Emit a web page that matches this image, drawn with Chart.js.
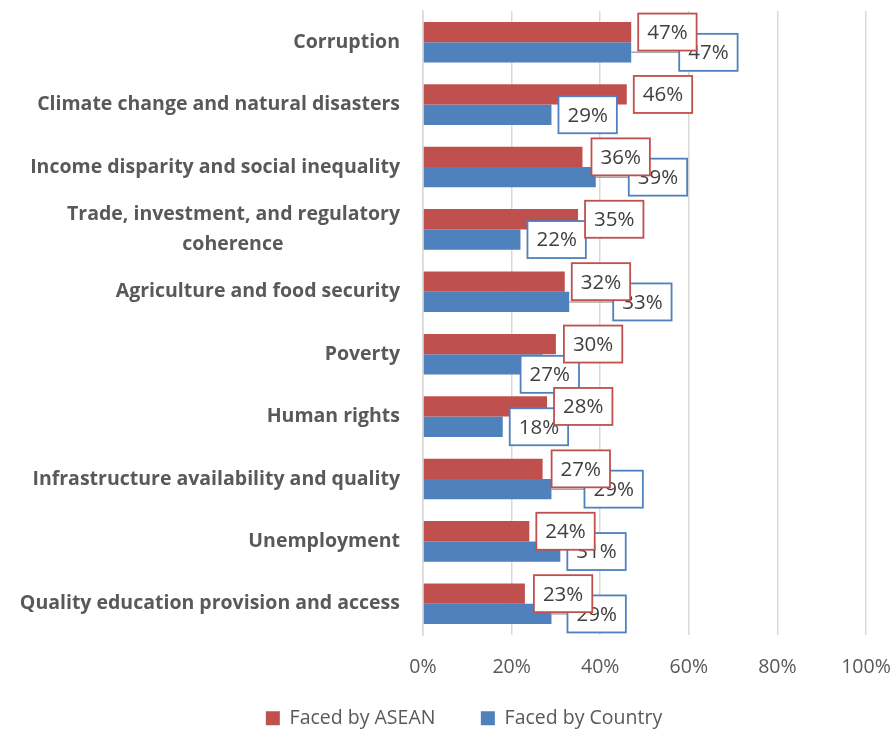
<!DOCTYPE html>
<html>
<head>
<meta charset="utf-8">
<script src="https://cdn.jsdelivr.net/npm/chart.js@4/dist/chart.umd.min.js"></script>
<style>
  html, body { margin: 0; padding: 0; background: #fff; }
  #wrap { width: 896px; height: 729px; position: relative; }
</style>
</head>
<body>
<div id="wrap"><canvas id="issuesChart"></canvas></div>
<script>
const categories = [
  'Corruption',
  'Climate change and natural disasters',
  'Income disparity and social inequality',
  ['Trade, investment, and regulatory', 'coherence'],
  'Agriculture and food security',
  'Poverty',
  'Human rights',
  'Infrastructure availability and quality',
  'Unemployment',
  'Quality education provision and access'
]
const facedByAsean = [47, 46, 36, 35, 32, 30, 28, 27, 24, 23]
const facedByCountry = [47, 29, 39, 22, 33, 27, 18, 29, 31, 29]
const tickValues = [0, 20, 40, 60, 80, 100]

// where the value boxes were dragged away from the bar end (px)
const aseanNudge = [[0, 0], [0, 0], [2, 0], [0, 0], [0, 0], [1, 0], [0, 0], [2, 0], [0, 0], [2, 0]]
const countryNudge = [[41, 0], [0, 0], [26, 0], [0, 0], [37, 0], [-29, 10], [0, 0], [26, 0], [0, 0], [9, 0]]

const RED = '#c0504d'
const BLUE = '#4f81bd'
const FONT = '"Open Sans", sans-serif'
const CAT_SIZE = 19.5
const catFont = { family: FONT, size: CAT_SIZE, weight: 'bold', lineHeight: 1.54 }
const legendFont = { family: FONT, size: 19.5 }

const measureCtx = document.createElement('canvas').getContext('2d')

// centre the shorter lines of a wrapped label under the longest one
function centreLines(lines) {
  measureCtx.font = 'bold ' + CAT_SIZE + 'px ' + FONT
  const widths = lines.map(l => measureCtx.measureText(l).width)
  const widest = Math.max(...widths)
  const sp = measureCtx.measureText('\u2009').width
  return lines.map((l, i) => l + '\u2009'.repeat(Math.round((widest - widths[i]) / 2 / sp)))
}

// drop the padding Chart.js reserves for overhanging tick labels
function noOverhang(scale) {
  scale.paddingLeft = 0
  scale.paddingRight = 0
  scale.paddingTop = 0
  scale.paddingBottom = 0
}

const valueBoxes = {
  id: 'valueBoxes',
  afterDatasetsDraw(chart) {
    const ctx = chart.ctx
    const nudges = [aseanNudge, countryNudge]
    const colours = [RED, BLUE]
    ctx.save()
    ctx.font = '20.5px ' + FONT
    const boxes = []
    ;[1, 0].forEach(di => {
      chart.getDatasetMeta(di).data.forEach((bar, i) => {
        const [dx, dy] = nudges[di][i]
        const text = chart.data.datasets[di].data[i] + '%'
        const w = ctx.measureText(text).width + 18
        boxes.push({
          left: bar.x + 7 + dx,
          cy: bar.y + dy,
          w, h: 37, text, bar, dx,
          colour: colours[di]
        })
      })
    })
    // leader lines go underneath every box
    ctx.strokeStyle = '#a6a6a6'
    ctx.lineWidth = 1.5
    boxes.forEach(b => {
      if (b.dx > 4) {
        ctx.beginPath()
        ctx.moveTo(b.bar.x, b.bar.y)
        ctx.lineTo(b.left, b.cy)
        ctx.stroke()
      }
    })
    boxes.forEach(b => {
      ctx.fillStyle = '#fff'
      ctx.fillRect(b.left, b.cy - b.h / 2, b.w, b.h)
      ctx.strokeStyle = b.colour
      ctx.lineWidth = 1.8
      ctx.strokeRect(b.left, b.cy - b.h / 2, b.w, b.h)
      ctx.fillStyle = '#404040'
      ctx.textAlign = 'center'
      ctx.textBaseline = 'middle'
      ctx.fillText(b.text, b.left + b.w / 2, b.cy + 1)
    })
    ctx.restore()
  }
}

// slide the legend row sideways under the plot
const legendShift = {
  id: 'legendShift',
  afterLayout(chart) {
    chart.legend.left += 31
    chart.legend.right += 31
  }
}

new Chart(document.getElementById('issuesChart'), {
  type: 'bar',
  data: {
    labels: categories,
    datasets: [
      {
        label: 'Faced by ASEAN',
        data: facedByAsean,
        backgroundColor: RED,
        categoryPercentage: 0.65,
        barPercentage: 1
      },
      {
        label: 'Faced by Country',
        data: facedByCountry,
        backgroundColor: BLUE,
        categoryPercentage: 0.65,
        barPercentage: 1
      }
    ]
  },
  options: {
    indexAxis: 'y',
    responsive: true,
    maintainAspectRatio: false,
    animation: false,
    layout: { padding: { left: 0, right: 30, top: 11, bottom: -9 } },
    scales: {
      x: {
        min: 0,
        max: 100,
        afterBuildTicks(scale) {
          scale.ticks = tickValues.map(v => ({ value: v }))
        },
        afterFit(scale) {
          noOverhang(scale)
          scale.height = 63.5
        },
        grid: { color: '#d9d9d9', lineWidth: 1.5, drawTicks: false },
        border: { display: false },
        ticks: {
          padding: 21,
          color: '#595959',
          font: { family: FONT, size: 19.5 },
          maxRotation: 0,
          callback: v => v + '%'
        }
      },
      y: {
        afterFit(scale) {
          noOverhang(scale)
          scale.width = 423
        },
        grid: { display: false, drawTicks: false },
        border: { display: true, color: '#d9d9d9', width: 1.5 },
        ticks: {
          padding: 23,
          autoSkip: false,
          color: '#595959',
          font: catFont,
          callback(value) {
            const label = this.getLabelForValue(value)
            return Array.isArray(label) ? centreLines(label) : label
          }
        }
      }
    },
    plugins: {
      legend: {
        position: 'bottom',
        labels: {
          boxWidth: 14,
          boxHeight: 14,
          padding: 10,
          color: '#595959',
          font: legendFont,
          generateLabels(chart) {
            const items = Chart.defaults.plugins.legend.labels.generateLabels(chart)
            measureCtx.font = '19.5px ' + FONT
            const sp = measureCtx.measureText(' ').width
            // wider gap between the two entries
            items.slice(0, -1).forEach(it => { it.text += ' '.repeat(Math.round(33 / sp)) })
            return items
          }
        }
      },
      tooltip: { enabled: false }
    }
  },
  plugins: [valueBoxes, legendShift]
})
</script>
</body>
</html>
